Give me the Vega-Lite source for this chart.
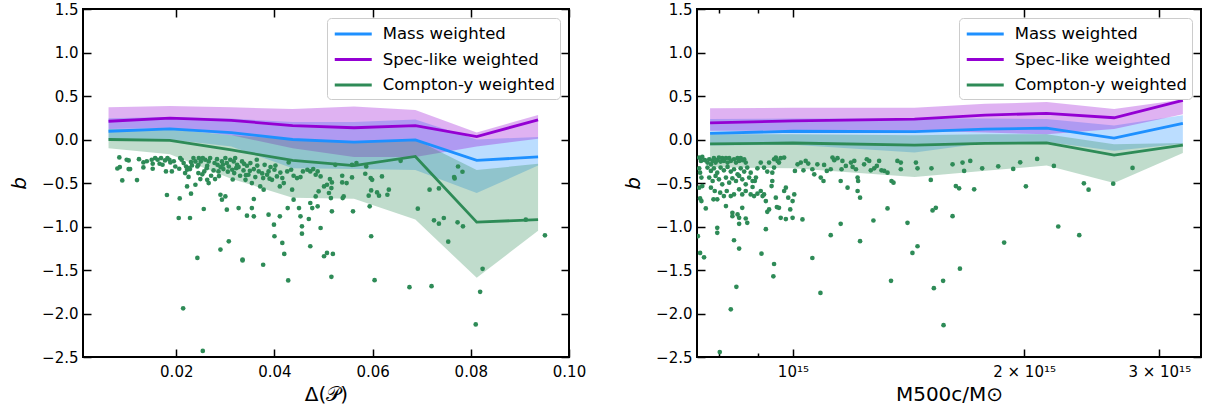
{
"$schema": "https://vega.github.io/schema/vega-lite/v6.json",
"padding": {"left": 8, "top": 1, "right": 5, "bottom": 0},
"spacing": 35,
"config": {
  "font": "DejaVu Sans",
  "view": {"stroke": "black", "strokeWidth": 2},
  "axis": {"domain": false, "grid": false, "tickColor": "black", "tickWidth": 1.5, "tickSize": -8, "labelFontSize": 15, "labelColor": "black", "labelPadding": 13, "titleFontSize": 20, "titleFontWeight": "normal", "titleColor": "black", "labelFont": "DejaVu Sans", "titleFont": "DejaVu Sans", "labelFlush": false, "labelOverlap": false},
  "axisX": {"labelPadding": 15},
  "legend": {"fillColor": "white", "strokeColor": "#cccccc", "cornerRadius": 4, "padding": 5, "labelFontSize": 16.5, "labelFont": "DejaVu Sans", "labelColor": "black", "labelLimit": 400, "symbolType": "M-2,0L2,0", "symbolStrokeWidth": 3, "symbolSize": 342, "symbolOffset": 10.25, "labelOffset": 18.5, "rowPadding": 5.5}
},
"resolve": {"scale": {"color": "independent", "x": "independent", "y": "independent"}, "legend": {"color": "independent"}},
"datasets": {
"ls": [
{"x":0.0062,"s":"Mass weighted","med":0.095,"lo":0.0,"hi":0.245},
{"x":0.0187,"s":"Mass weighted","med":0.122,"lo":0.0,"hi":0.26},
{"x":0.0312,"s":"Mass weighted","med":0.08,"lo":-0.08,"hi":0.24},
{"x":0.0437,"s":"Mass weighted","med":0.0,"lo":-0.33,"hi":0.2},
{"x":0.0562,"s":"Mass weighted","med":-0.03,"lo":-0.34,"hi":0.2},
{"x":0.0687,"s":"Mass weighted","med":-0.005,"lo":-0.35,"hi":0.23},
{"x":0.0812,"s":"Mass weighted","med":-0.24,"lo":-0.615,"hi":0.0},
{"x":0.0937,"s":"Mass weighted","med":-0.2,"lo":-0.3,"hi":0.03},
{"x":0.0062,"s":"Spec-like weighted","med":0.21,"lo":0.12,"hi":0.37},
{"x":0.0187,"s":"Spec-like weighted","med":0.245,"lo":0.13,"hi":0.385},
{"x":0.0312,"s":"Spec-like weighted","med":0.22,"lo":0.05,"hi":0.37},
{"x":0.0437,"s":"Spec-like weighted","med":0.16,"lo":-0.1,"hi":0.35},
{"x":0.0562,"s":"Spec-like weighted","med":0.135,"lo":-0.2,"hi":0.38},
{"x":0.0687,"s":"Spec-like weighted","med":0.16,"lo":-0.2,"hi":0.34},
{"x":0.0812,"s":"Spec-like weighted","med":0.034,"lo":-0.08,"hi":0.08},
{"x":0.0937,"s":"Spec-like weighted","med":0.226,"lo":0.01,"hi":0.283},
{"x":0.0062,"s":"Compton-y weighted","med":0.0,"lo":-0.1,"hi":0.12},
{"x":0.0187,"s":"Compton-y weighted","med":-0.01,"lo":-0.17,"hi":0.12},
{"x":0.0312,"s":"Compton-y weighted","med":-0.12,"lo":-0.45,"hi":0.05},
{"x":0.0437,"s":"Compton-y weighted","med":-0.24,"lo":-0.67,"hi":0.0},
{"x":0.0562,"s":"Compton-y weighted","med":-0.3,"lo":-0.68,"hi":-0.02},
{"x":0.0687,"s":"Compton-y weighted","med":-0.195,"lo":-0.92,"hi":0.0},
{"x":0.0812,"s":"Compton-y weighted","med":-0.95,"lo":-1.59,"hi":-0.35},
{"x":0.0937,"s":"Compton-y weighted","med":-0.92,"lo":-1.05,"hi":-0.28}
],
"lp": [
{"x":0.0084,"y":-0.206},{"x":0.0099,"y":-0.233},{"x":0.0103,"y":-0.241},{"x":0.0080,"y":-0.333},{"x":0.0085,"y":-0.317},{"x":0.0103,"y":-0.340},{"x":0.0106,"y":-0.340},{"x":0.0090,"y":-0.470},{"x":0.0120,"y":-0.466},{"x":0.0124,"y":-0.226},
{"x":0.0133,"y":-0.264},{"x":0.0133,"y":-0.321},{"x":0.0150,"y":-0.233},{"x":0.0152,"y":-0.279},{"x":0.0157,"y":-0.214},{"x":0.0162,"y":-0.233},{"x":0.0152,"y":-0.336},{"x":0.0166,"y":-0.279},{"x":0.0169,"y":-0.214},{"x":0.0177,"y":-0.241},
{"x":0.0182,"y":-0.214},{"x":0.0186,"y":-0.233},{"x":0.0188,"y":-0.264},{"x":0.0179,"y":-0.367},{"x":0.0191,"y":-0.367},{"x":0.0181,"y":-0.638},{"x":0.0198,"y":-0.310},{"x":0.0206,"y":-0.336},{"x":0.0207,"y":-0.677},{"x":0.0205,"y":-0.902},
{"x":0.0208,"y":-0.214},{"x":0.0211,"y":-0.233},{"x":0.0215,"y":-0.271},{"x":0.0220,"y":-0.310},{"x":0.0222,"y":-0.348},{"x":0.0218,"y":-0.386},{"x":0.0225,"y":-0.329},{"x":0.0228,"y":-0.340},{"x":0.0232,"y":-0.298},{"x":0.0235,"y":-0.214},
{"x":0.0239,"y":-0.252},{"x":0.0243,"y":-0.310},{"x":0.0246,"y":-0.214},{"x":0.0250,"y":-0.252},{"x":0.0254,"y":-0.214},{"x":0.0259,"y":-0.233},{"x":0.0263,"y":-0.302},{"x":0.0266,"y":-0.252},{"x":0.0269,"y":-0.214},{"x":0.0245,"y":-0.386},
{"x":0.0249,"y":-0.455},{"x":0.0257,"y":-0.367},{"x":0.0263,"y":-0.463},{"x":0.0266,"y":-0.501},{"x":0.0271,"y":-0.417},{"x":0.0276,"y":-0.355},{"x":0.0279,"y":-0.455},{"x":0.0283,"y":-0.226},{"x":0.0284,"y":-0.291},{"x":0.0286,"y":-0.367},
{"x":0.0290,"y":-0.317},{"x":0.0293,"y":-0.252},{"x":0.0296,"y":-0.340},{"x":0.0300,"y":-0.214},{"x":0.0303,"y":-0.271},{"x":0.0307,"y":-0.310},{"x":0.0310,"y":-0.233},{"x":0.0314,"y":-0.348},{"x":0.0317,"y":-0.252},{"x":0.0318,"y":-0.386},
{"x":0.0320,"y":-0.214},{"x":0.0324,"y":-0.291},{"x":0.0327,"y":-0.317},{"x":0.0330,"y":-0.417},{"x":0.0334,"y":-0.252},{"x":0.0337,"y":-0.355},{"x":0.0341,"y":-0.463},{"x":0.0344,"y":-0.302},{"x":0.0347,"y":-0.405},{"x":0.0351,"y":-0.271},
{"x":0.0354,"y":-0.501},{"x":0.0358,"y":-0.340},{"x":0.0361,"y":-0.432},{"x":0.0364,"y":-0.233},{"x":0.0368,"y":-0.367},{"x":0.0371,"y":-0.539},{"x":0.0377,"y":-0.443},{"x":0.0380,"y":-0.291},{"x":0.0385,"y":-0.405},{"x":0.0388,"y":-0.367},
{"x":0.0392,"y":-0.317},{"x":0.0395,"y":-0.463},{"x":0.0400,"y":-0.348},{"x":0.0405,"y":-0.424},{"x":0.0411,"y":-0.539},{"x":0.0416,"y":-0.443},{"x":0.0419,"y":-0.501},{"x":0.0426,"y":-0.367},{"x":0.0429,"y":-0.264},{"x":0.0434,"y":-0.348},
{"x":0.0439,"y":-0.417},{"x":0.0446,"y":-0.443},{"x":0.0453,"y":-0.432},{"x":0.0458,"y":-0.367},{"x":0.0467,"y":-0.348},{"x":0.0473,"y":-0.367},{"x":0.0479,"y":-0.340},{"x":0.0484,"y":-0.405},{"x":0.0488,"y":-0.367},{"x":0.0494,"y":-0.424},
{"x":0.0501,"y":-0.539},{"x":0.0507,"y":-0.520},{"x":0.0513,"y":-0.455},
{"x":0.0222,"y":-0.539},{"x":0.0230,"y":-0.623},{"x":0.0239,"y":-0.520},{"x":0.0228,"y":-0.902},{"x":0.0256,"y":-0.799},{"x":0.0290,"y":-0.635},{"x":0.0293,"y":-0.692},{"x":0.0300,"y":-0.654},{"x":0.0303,"y":-0.807},{"x":0.0327,"y":-0.788},
{"x":0.0344,"y":-0.875},{"x":0.0354,"y":-0.788},{"x":0.0358,"y":-0.684},{"x":0.0358,"y":-0.883},{"x":0.0378,"y":-0.577},{"x":0.0388,"y":-0.864},{"x":0.0399,"y":-0.979},{"x":0.0400,"y":-1.112},{"x":0.0411,"y":-0.883},{"x":0.0416,"y":-1.189},
{"x":0.0427,"y":-0.788},{"x":0.0436,"y":-0.577},{"x":0.0439,"y":-0.692},{"x":0.0450,"y":-0.788},{"x":0.0453,"y":-0.883},{"x":0.0456,"y":-0.998},{"x":0.0456,"y":-1.082},{"x":0.0473,"y":-0.730},{"x":0.0477,"y":-0.788},{"x":0.0470,"y":-0.914},
{"x":0.0473,"y":-1.227},{"x":0.0488,"y":-0.768},{"x":0.0494,"y":-1.017},{"x":0.0501,"y":-1.342},{"x":0.0507,"y":-1.304},{"x":0.0511,"y":-0.615},{"x":0.0484,"y":-0.654},{"x":0.0490,"y":-0.596},{"x":0.0307,"y":-1.170},{"x":0.0290,"y":-1.265},
{"x":0.0243,"y":-1.361},{"x":0.0335,"y":-1.380},{"x":0.0420,"y":-1.315},
{"x":0.0230,"y":-0.26},{"x":0.0245,"y":-0.29},{"x":0.0262,"y":-0.33},{"x":0.0278,"y":-0.27},{"x":0.0295,"y":-0.29},{"x":0.0305,"y":-0.37},{"x":0.0322,"y":-0.33},{"x":0.0338,"y":-0.28},{"x":0.0350,"y":-0.36},{"x":0.0365,"y":-0.30},
{"x":0.0375,"y":-0.39},{"x":0.0390,"y":-0.45},{"x":0.0402,"y":-0.30},{"x":0.0412,"y":-0.38},{"x":0.0225,"y":-0.43},{"x":0.0253,"y":-0.40},{"x":0.0287,"y":-0.42},{"x":0.0315,"y":-0.46},{"x":0.0342,"y":-0.41},{"x":0.0195,"y":-0.25},
{"x":0.0172,"y":-0.29},{"x":0.0140,"y":-0.25},
{"x":0.0524,"y":-0.291},{"x":0.0517,"y":-0.493},{"x":0.0516,"y":-0.558},{"x":0.0515,"y":-0.673},{"x":0.0517,"y":-0.826},{"x":0.0519,"y":-1.315},{"x":0.0516,"y":-1.579},{"x":0.0538,"y":-0.417},{"x":0.0538,"y":-0.493},{"x":0.0547,"y":-0.501},
{"x":0.0541,"y":-0.654},{"x":0.0539,"y":-0.673},{"x":0.0558,"y":-0.436},{"x":0.0560,"y":-0.826},{"x":0.0558,"y":-0.291},{"x":0.0567,"y":-0.271},{"x":0.0585,"y":-0.394},{"x":0.0587,"y":-0.310},{"x":0.0596,"y":-0.443},{"x":0.0599,"y":-0.463},
{"x":0.0597,"y":-0.585},{"x":0.0592,"y":-0.646},{"x":0.0594,"y":-0.768},{"x":0.0609,"y":-0.608},{"x":0.0613,"y":-0.646},{"x":0.0619,"y":-0.424},{"x":0.0633,"y":-0.577},{"x":0.0630,"y":-0.635},{"x":0.0597,"y":-1.112},{"x":0.0604,"y":-1.617},
{"x":0.0657,"y":-0.245},{"x":0.0675,"y":-1.697},{"x":0.0692,"y":-0.795},{"x":0.0716,"y":-0.577},{"x":0.0735,"y":-0.562},{"x":0.0720,"y":-1.686},{"x":0.0725,"y":-0.929},{"x":0.0735,"y":-0.967},{"x":0.0745,"y":-0.902},{"x":0.0754,"y":-1.174},
{"x":0.0766,"y":-0.432},{"x":0.0767,"y":-0.447},{"x":0.0774,"y":-0.310},{"x":0.0783,"y":-0.371},{"x":0.0773,"y":-0.952},{"x":0.0784,"y":-0.998},{"x":0.0810,"y":-2.125},{"x":0.0819,"y":-1.751},{"x":0.0824,"y":-1.487},{"x":0.0912,"y":-0.921},
{"x":0.0951,"y":-1.101},
{"x":0.0214,"y":-1.94},{"x":0.0254,"y":-2.43},{"x":0.0335,"y":-1.39},{"x":0.0377,"y":-1.44},{"x":0.0428,"y":-1.62}
],
"rs": [
{"m":7.8e14,"s":"Mass weighted","med":0.07,"lo":-0.07,"hi":0.235},
{"m":1.0e15,"s":"Mass weighted","med":0.095,"lo":-0.06,"hi":0.24},
{"m":1.44e15,"s":"Mass weighted","med":0.09,"lo":-0.15,"hi":0.24},
{"m":1.78e15,"s":"Mass weighted","med":0.12,"lo":-0.04,"hi":0.24},
{"m":2.14e15,"s":"Mass weighted","med":0.13,"lo":-0.03,"hi":0.235},
{"m":2.62e15,"s":"Mass weighted","med":0.015,"lo":-0.13,"hi":0.16},
{"m":3.22e15,"s":"Mass weighted","med":0.185,"lo":-0.05,"hi":0.28},
{"m":7.8e14,"s":"Spec-like weighted","med":0.19,"lo":0.1,"hi":0.36},
{"m":1.0e15,"s":"Spec-like weighted","med":0.215,"lo":0.1,"hi":0.365},
{"m":1.44e15,"s":"Spec-like weighted","med":0.235,"lo":0.1,"hi":0.365},
{"m":1.78e15,"s":"Spec-like weighted","med":0.28,"lo":0.08,"hi":0.41},
{"m":2.14e15,"s":"Spec-like weighted","med":0.3,"lo":0.06,"hi":0.43},
{"m":2.62e15,"s":"Spec-like weighted","med":0.25,"lo":0.12,"hi":0.35},
{"m":3.22e15,"s":"Spec-like weighted","med":0.45,"lo":0.29,"hi":0.46},
{"m":7.8e14,"s":"Compton-y weighted","med":-0.05,"lo":-0.32,"hi":0.06},
{"m":1.0e15,"s":"Compton-y weighted","med":-0.04,"lo":-0.33,"hi":0.06},
{"m":1.44e15,"s":"Compton-y weighted","med":-0.065,"lo":-0.43,"hi":0.05},
{"m":1.78e15,"s":"Compton-y weighted","med":-0.045,"lo":-0.36,"hi":0.06},
{"m":2.14e15,"s":"Compton-y weighted","med":-0.04,"lo":-0.3,"hi":0.06},
{"m":2.62e15,"s":"Compton-y weighted","med":-0.18,"lo":-0.5,"hi":-0.055},
{"m":3.22e15,"s":"Compton-y weighted","med":-0.065,"lo":-0.155,"hi":-0.04}
],
"rp": [
{"m":7.55e14,"y":-0.208},{"m":7.59e14,"y":-0.246},{"m":7.62e14,"y":-0.200},{"m":7.68e14,"y":-0.238},{"m":7.55e14,"y":-0.331},{"m":7.57e14,"y":-0.381},{"m":7.60e14,"y":-0.438},{"m":7.62e14,"y":-0.535},{"m":7.55e14,"y":-0.554},{"m":7.57e14,"y":-0.677},
{"m":7.60e14,"y":-0.708},{"m":7.70e14,"y":-0.792},{"m":7.52e14,"y":-1.111},{"m":7.57e14,"y":-1.304},{"m":7.66e14,"y":-1.354},{"m":7.74e14,"y":-0.265},{"m":7.78e14,"y":-0.227},{"m":7.82e14,"y":-0.285},{"m":7.86e14,"y":-0.246},{"m":7.89e14,"y":-0.215},
{"m":7.93e14,"y":-0.265},{"m":7.97e14,"y":-0.238},{"m":8.01e14,"y":-0.208},{"m":8.05e14,"y":-0.254},{"m":8.09e14,"y":-0.215},{"m":8.13e14,"y":-0.246},{"m":8.18e14,"y":-0.215},{"m":8.22e14,"y":-0.265},{"m":8.26e14,"y":-0.215},{"m":8.30e14,"y":-0.246},
{"m":8.38e14,"y":-0.227},{"m":8.43e14,"y":-0.265},{"m":8.47e14,"y":-0.215},{"m":8.51e14,"y":-0.246},{"m":8.55e14,"y":-0.215},{"m":8.59e14,"y":-0.238},{"m":8.64e14,"y":-0.227},{"m":8.68e14,"y":-0.265},{"m":7.74e14,"y":-0.323},{"m":7.82e14,"y":-0.361},
{"m":7.89e14,"y":-0.331},{"m":7.97e14,"y":-0.381},{"m":8.05e14,"y":-0.323},{"m":8.13e14,"y":-0.354},{"m":8.22e14,"y":-0.315},{"m":8.30e14,"y":-0.369},{"m":8.38e14,"y":-0.342},{"m":8.47e14,"y":-0.400},{"m":8.55e14,"y":-0.331},{"m":8.64e14,"y":-0.369},
{"m":8.72e14,"y":-0.323},{"m":8.81e14,"y":-0.381},{"m":7.78e14,"y":-0.438},{"m":7.86e14,"y":-0.477},{"m":7.93e14,"y":-0.419},{"m":8.01e14,"y":-0.458},{"m":8.09e14,"y":-0.515},{"m":8.18e14,"y":-0.438},{"m":8.26e14,"y":-0.496},{"m":8.34e14,"y":-0.446},
{"m":8.43e14,"y":-0.477},{"m":8.51e14,"y":-0.419},{"m":8.59e14,"y":-0.458},{"m":8.68e14,"y":-0.515},{"m":8.77e14,"y":-0.438},{"m":8.86e14,"y":-0.477},{"m":8.95e14,"y":-0.438},{"m":7.82e14,"y":-0.554},{"m":7.91e14,"y":-0.592},{"m":7.88e14,"y":-0.688},
{"m":7.97e14,"y":-0.688},{"m":8.04e14,"y":-0.611},{"m":8.13e14,"y":-0.650},{"m":8.20e14,"y":-0.592},{"m":8.30e14,"y":-0.650},{"m":8.38e14,"y":-0.631},{"m":8.51e14,"y":-0.573},{"m":8.59e14,"y":-0.631},{"m":8.68e14,"y":-0.592},{"m":8.81e14,"y":-0.631},
{"m":8.90e14,"y":-0.650},{"m":8.99e14,"y":-0.623},{"m":9.08e14,"y":-0.592},{"m":9.17e14,"y":-0.631},{"m":8.18e14,"y":-0.765},{"m":8.34e14,"y":-0.842},{"m":8.47e14,"y":-0.861},{"m":8.51e14,"y":-0.900},{"m":8.59e14,"y":-0.785},{"m":8.68e14,"y":-0.908},
{"m":8.51e14,"y":-0.969},{"m":8.72e14,"y":-0.958},{"m":8.34e14,"y":-0.881},{"m":7.97e14,"y":-1.015},{"m":7.97e14,"y":-1.073},{"m":8.38e14,"y":-1.158},{"m":8.51e14,"y":-1.254},{"m":9.10e14,"y":-1.312},{"m":9.45e14,"y":-1.431},{"m":9.43e14,"y":-1.573},
{"m":9.22e14,"y":-1.031},{"m":9.26e14,"y":-0.831},{"m":9.31e14,"y":-0.804},{"m":9.38e14,"y":-0.535},{"m":9.40e14,"y":-0.477},{"m":9.45e14,"y":-0.227},{"m":9.50e14,"y":-0.208},{"m":9.55e14,"y":-0.246},{"m":9.64e14,"y":-0.215},{"m":9.59e14,"y":-0.265},
{"m":9.74e14,"y":-0.208},{"m":9.08e14,"y":-0.265},{"m":9.17e14,"y":-0.323},{"m":9.26e14,"y":-0.369},{"m":9.31e14,"y":-0.265},{"m":8.99e14,"y":-0.331},{"m":8.92e14,"y":-0.477},{"m":8.86e14,"y":-0.546},{"m":9.13e14,"y":-0.650},{"m":9.22e14,"y":-0.708},
{"m":9.50e14,"y":-0.669},{"m":9.53e14,"y":-0.777},{"m":9.59e14,"y":-0.785},{"m":9.64e14,"y":-0.900},{"m":9.74e14,"y":-0.592},{"m":9.79e14,"y":-0.554},{"m":9.86e14,"y":-0.669},{"m":9.92e14,"y":-0.804},{"m":9.99e14,"y":-0.708},{"m":1.004e15,"y":-0.631},
{"m":1.006e15,"y":-0.361},{"m":1.014e15,"y":-0.285},{"m":1.024e15,"y":-0.265},{"m":1.032e15,"y":-0.354},{"m":1.039e15,"y":-0.246},{"m":1.047e15,"y":-0.277},{"m":1.060e15,"y":-0.342},{"m":1.066e15,"y":-0.400},{"m":1.076e15,"y":-0.285},{"m":1.087e15,"y":-0.438},
{"m":1.096e15,"y":-0.477},{"m":1.098e15,"y":-0.292},{"m":1.107e15,"y":-0.361},{"m":1.120e15,"y":-0.342},{"m":1.126e15,"y":-0.208},{"m":1.132e15,"y":-0.238},{"m":1.143e15,"y":-0.215},{"m":1.154e15,"y":-0.477},{"m":1.157e15,"y":-0.342},{"m":1.160e15,"y":-0.246},
{"m":1.172e15,"y":-0.304},{"m":1.178e15,"y":-0.554},{"m":1.190e15,"y":-0.265},{"m":1.196e15,"y":-0.315},{"m":1.202e15,"y":-0.246},{"m":1.208e15,"y":-0.342},{"m":1.214e15,"y":-0.438},{"m":1.216e15,"y":-0.477},{"m":1.214e15,"y":-0.592},{"m":1.223e15,"y":-0.669},
{"m":1.238e15,"y":-0.285},{"m":1.248e15,"y":-0.227},{"m":1.257e15,"y":-0.246},{"m":1.263e15,"y":-0.354},{"m":1.276e15,"y":-0.331},{"m":1.286e15,"y":-0.304},{"m":1.295e15,"y":-0.246},{"m":1.304e15,"y":-0.354},{"m":1.315e15,"y":-0.361},{"m":1.328e15,"y":-0.381},
{"m":1.344e15,"y":-0.477},{"m":1.352e15,"y":-0.496},{"m":1.328e15,"y":-0.792},{"m":1.368e15,"y":-0.246},{"m":1.382e15,"y":-0.342},{"m":1.382e15,"y":-0.265},{"m":1.410e15,"y":-0.958},{"m":1.431e15,"y":-1.304},{"m":1.453e15,"y":-1.227},{"m":1.446e15,"y":-0.265},
{"m":1.453e15,"y":-0.331},{"m":1.515e15,"y":-0.331},{"m":1.512e15,"y":-0.465},{"m":1.520e15,"y":-0.815},{"m":1.535e15,"y":-0.785},{"m":1.614e15,"y":-0.285},{"m":1.614e15,"y":-0.881},{"m":1.630e15,"y":-0.535},{"m":1.646e15,"y":-0.561},{"m":1.663e15,"y":-0.265},
{"m":1.671e15,"y":-0.361},{"m":1.702e15,"y":-0.246},{"m":1.722e15,"y":-0.573},{"m":1.223e15,"y":-1.169},{"m":1.273e15,"y":-0.931},{"m":1.154e15,"y":-0.969},{"m":1.120e15,"y":-1.100},{"m":1.060e15,"y":-1.362},{"m":1.029e15,"y":-0.919},{"m":9.99e14,"y":-0.900},
{"m":9.79e14,"y":-0.915},{"m":9.45e14,"y":-0.323},{"m":9.40e14,"y":-0.381},
{"m":1.764e15,"y":-0.331},{"m":1.851e15,"y":-0.308},{"m":1.936e15,"y":-0.338},{"m":1.977e15,"y":-0.262},{"m":2.080e15,"y":-0.223},{"m":2.187e15,"y":-0.304},{"m":2.393e15,"y":-0.504},{"m":2.427e15,"y":-0.577},{"m":2.613e15,"y":-0.508},{"m":2.769e15,"y":-0.327},
{"m":2.011e15,"y":-0.538},{"m":2.216e15,"y":-1.0},{"m":2.360e15,"y":-1.10},{"m":1.884e15,"y":-1.185},{"m":1.650e15,"y":-1.485},
{"m":8.30e14,"y":-1.952},{"m":8.44e14,"y":-1.693},{"m":8.03e14,"y":-2.443},{"m":1.086e15,"y":-1.763},{"m":1.571e15,"y":-2.134},{"m":1.526e15,"y":-1.709},{"m":1.569e15,"y":-1.624},{"m":1.342e15,"y":-1.624}
]
},
"hconcat": [
{
  "width": 486, "height": 348,
  "resolve": {"axis": {"x": "independent", "y": "independent"}},
  "layer": [
    {"data": {"name": "ls"}, "transform": [{"filter": {"field": "s", "equal": "Mass weighted"}}],
     "mark": {"type": "area", "color": "#1e90ff", "opacity": 0.3, "clip": true},
     "encoding": {
       "x": {"field": "x", "type": "quantitative", "scale": {"domain": [0.001, 0.1], "nice": false, "zero": false},
             "axis": {"orient": "bottom", "values": [0.02, 0.04, 0.06, 0.08, 0.1], "format": ".2f", "title": "Δ(𝒫)", "titlePadding": 5}},
       "y": {"field": "lo", "type": "quantitative", "scale": {"domain": [-2.5, 1.5], "nice": false, "zero": false},
             "axis": {"orient": "left", "values": [-2.5, -2, -1.5, -1, -0.5, 0, 0.5, 1, 1.5], "format": ".1f", "title": "b", "titleFontStyle": "italic", "titleX": -64, "titleAlign": "center", "titleBaseline": "middle", "titleAngle": -90}},
       "y2": {"field": "hi"}
     }},
    {"data": {"name": "ls"}, "transform": [{"filter": {"field": "s", "equal": "Spec-like weighted"}}],
     "mark": {"type": "area", "color": "#9400d3", "opacity": 0.3, "clip": true},
     "encoding": {
       "x": {"field": "x", "type": "quantitative", "axis": null},
       "y": {"field": "lo", "type": "quantitative", "axis": null},
       "y2": {"field": "hi"}
     }},
    {"data": {"name": "ls"}, "transform": [{"filter": {"field": "s", "equal": "Compton-y weighted"}}],
     "mark": {"type": "area", "color": "#2e8b57", "opacity": 0.3, "clip": true},
     "encoding": {
       "x": {"field": "x", "type": "quantitative", "axis": null},
       "y": {"field": "lo", "type": "quantitative", "axis": null},
       "y2": {"field": "hi"}
     }},
    {"data": {"name": "lp"},
     "mark": {"type": "circle", "color": "#2e8b57", "opacity": 1, "size": 22, "clip": true},
     "encoding": {
       "x": {"field": "x", "type": "quantitative", "axis": null},
       "y": {"field": "y", "type": "quantitative", "axis": null}
     }},
    {"mark": {"type": "rule", "color": "#a0a0a0", "strokeWidth": 2.5},
     "encoding": {"x": {"datum": 0.0198, "type": "quantitative", "axis": null}}},
    {"mark": {"type": "rule", "color": "black", "strokeWidth": 2.5, "strokeDash": [7, 4]},
     "encoding": {"x": {"datum": 0.0218, "type": "quantitative", "axis": null}}},
    {"mark": {"type": "rule", "color": "black", "strokeWidth": 2.2, "strokeDash": [7, 4]},
     "encoding": {"y": {"datum": 0, "type": "quantitative", "axis": null}}},
    {"data": {"name": "ls"},
     "mark": {"type": "line", "strokeWidth": 2.8, "clip": true},
     "encoding": {
       "x": {"field": "x", "type": "quantitative", "axis": {"orient": "top", "values": [0.02, 0.04, 0.06, 0.08, 0.1], "labels": false, "title": null}},
       "y": {"field": "med", "type": "quantitative", "axis": {"orient": "right", "values": [-2.5, -2, -1.5, -1, -0.5, 0, 0.5, 1, 1.5], "labels": false, "title": null}},
       "color": {"field": "s", "type": "nominal",
                 "scale": {"domain": ["Mass weighted", "Spec-like weighted", "Compton-y weighted"], "range": ["#1e90ff", "#9400d3", "#2e8b57"]},
                 "legend": {"orient": "top-right", "offset": 9, "title": null}}
     }}
  ]
},
{
  "width": 504, "height": 348,
  "resolve": {"axis": {"x": "independent", "y": "independent"}},
  "layer": [
    {"data": {"name": "rs"}, "transform": [{"filter": {"field": "s", "equal": "Mass weighted"}}],
     "mark": {"type": "area", "color": "#1e90ff", "opacity": 0.3, "clip": true},
     "encoding": {
       "x": {"field": "m", "type": "quantitative", "scale": {"type": "log", "domain": [7.5e14, 3.4e15], "nice": false},
             "axis": {"orient": "bottom", "values": [1e15, 2e15, 3e15], "labelExpr": "datum.value < 1.5e15 ? '10¹⁵' : datum.value < 2.5e15 ? '2 × 10¹⁵' : '3 × 10¹⁵'", "title": "M500c/M⊙", "titlePadding": 5}},
       "y": {"field": "lo", "type": "quantitative", "scale": {"domain": [-2.5, 1.5], "nice": false, "zero": false},
             "axis": {"orient": "left", "values": [-2.5, -2, -1.5, -1, -0.5, 0, 0.5, 1, 1.5], "format": ".1f", "title": "b", "titleFontStyle": "italic", "titleX": -64, "titleAlign": "center", "titleBaseline": "middle", "titleAngle": -90}},
       "y2": {"field": "hi"}
     }},
    {"data": {"name": "rs"}, "transform": [{"filter": {"field": "s", "equal": "Spec-like weighted"}}],
     "mark": {"type": "area", "color": "#9400d3", "opacity": 0.3, "clip": true},
     "encoding": {
       "x": {"field": "m", "type": "quantitative", "axis": null},
       "y": {"field": "lo", "type": "quantitative", "axis": null},
       "y2": {"field": "hi"}
     }},
    {"data": {"name": "rs"}, "transform": [{"filter": {"field": "s", "equal": "Compton-y weighted"}}],
     "mark": {"type": "area", "color": "#2e8b57", "opacity": 0.3, "clip": true},
     "encoding": {
       "x": {"field": "m", "type": "quantitative", "axis": null},
       "y": {"field": "lo", "type": "quantitative", "axis": null},
       "y2": {"field": "hi"}
     }},
    {"data": {"name": "rp"},
     "mark": {"type": "circle", "color": "#2e8b57", "opacity": 1, "size": 22, "clip": true},
     "encoding": {
       "x": {"field": "m", "type": "quantitative", "axis": {"orient": "bottom", "values": [8e14, 9e14], "labels": false, "title": null, "tickSize": -4}},
       "y": {"field": "y", "type": "quantitative", "axis": null}
     }},
    {"mark": {"type": "rule", "color": "black", "strokeWidth": 2.2, "strokeDash": [7, 4]},
     "encoding": {
       "x": {"datum": 7.5e14, "type": "quantitative", "axis": {"orient": "top", "values": [8e14, 9e14], "labels": false, "title": null, "tickSize": -4}},
       "x2": {"datum": 3.4e15},
       "y": {"datum": 0, "type": "quantitative", "axis": null}
     }},
    {"data": {"name": "rs"},
     "mark": {"type": "line", "strokeWidth": 2.8, "clip": true},
     "encoding": {
       "x": {"field": "m", "type": "quantitative", "axis": {"orient": "top", "values": [1e15, 2e15, 3e15], "labels": false, "title": null}},
       "y": {"field": "med", "type": "quantitative", "axis": {"orient": "right", "values": [-2.5, -2, -1.5, -1, -0.5, 0, 0.5, 1, 1.5], "labels": false, "title": null}},
       "color": {"field": "s", "type": "nominal",
                 "scale": {"domain": ["Mass weighted", "Spec-like weighted", "Compton-y weighted"], "range": ["#1e90ff", "#9400d3", "#2e8b57"]},
                 "legend": {"orient": "top-right", "offset": 9, "title": null}}
     }}
  ]
}
]
}
